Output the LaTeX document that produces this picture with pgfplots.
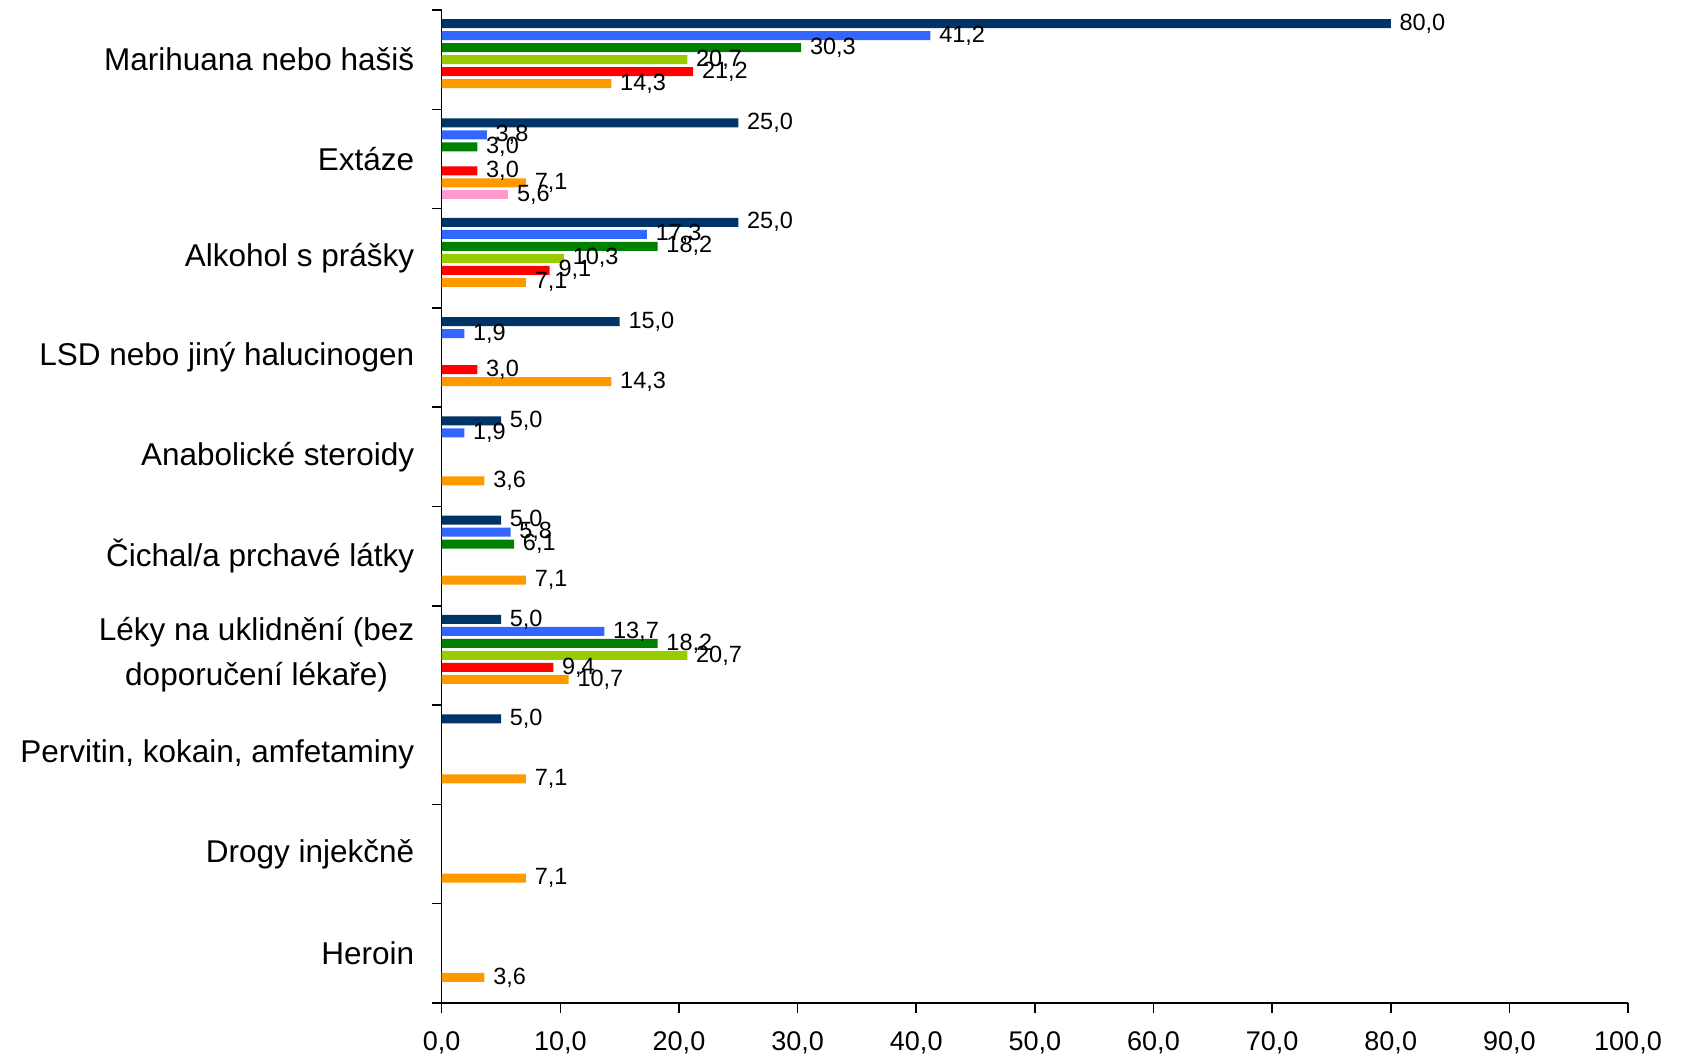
\documentclass[border=0pt]{standalone}
\usepackage{fontspec}
\setmainfont{Liberation Sans}
\usepackage{pgfplots}
\pgfplotsset{compat=1.18}

\definecolor{cNavy}{HTML}{003366}
\definecolor{cBlue}{HTML}{3366FF}
\definecolor{cGreen}{HTML}{008000}
\definecolor{cLime}{HTML}{99CC00}
\definecolor{cRed}{HTML}{FF0000}
\definecolor{cOrange}{HTML}{FF9900}
\definecolor{cPink}{HTML}{FF99CC}

\begin{document}
\begin{tikzpicture}
\begin{axis}[
    name=ax,
    xbar,
    scale only axis,
    width=474.5pt, height=397.2pt,
    xmin=0, xmax=100,
    ymin=-0.5, ymax=9.5,
    axis lines=left,
    axis line style={-, line width=0.6pt},
    tick style={black, line width=0.6pt},
    tick align=outside,
    major tick length=3.8pt,
    xtick={0,10,...,100},
    ytick={-0.5,0.5,...,9.5},
    yticklabels={},
    extra y ticks={0,1,...,9},
    extra y tick labels={Heroin\ ,Drogy injekčně,{Pervitin, kokain, amfetaminy\ },
      {\begin{tabular}{@{}c@{}}Léky na uklidnění (bez\\[3pt]doporučení lékaře)\end{tabular}},
      Čichal/a prchavé látky,Anabolické steroidy,LSD nebo jiný halucinogen,
      Alkohol s prášky\ ,Extáze,Marihuana nebo hašiš},
    extra y tick style={major tick length=0pt,
      yticklabel style={font=\fontsize{12.6}{15}\selectfont, anchor=east, xshift=-7.5pt}},
    xticklabel style={font=\fontsize{10.8}{13}\selectfont, yshift=-4pt},
    /pgf/number format/.cd, fixed, fixed zerofill, precision=1, use comma, assume math mode=true,
    /pgfplots/.cd,
    bar width=3.6pt,
    nodes near coords,
    every node near coord/.append style={font=\fontsize{9.4}{11}\selectfont, anchor=west, xshift=0pt,
      /pgf/number format/.cd, fixed, fixed zerofill, precision=1, use comma, assume math mode=true},
    clip=false,
]
\addplot[fill=cNavy, draw=none, bar shift=14.4pt] coordinates {
  (80,9) (25,8) (25,7) (15,6) (5,5) (5,4) (5,3) (5,2)};
\addplot[fill=cBlue, draw=none, bar shift=9.6pt] coordinates {
  (41.2,9) (3.8,8) (17.3,7) (1.9,6) (1.9,5) (5.8,4) (13.7,3)};
\addplot[fill=cGreen, draw=none, bar shift=4.8pt] coordinates {
  (30.3,9) (3.0,8) (18.2,7) (6.1,4) (18.2,3)};
\addplot[fill=cLime, draw=none, bar shift=0pt] coordinates {
  (20.7,9) (10.3,7) (20.7,3)};
\addplot[fill=cRed, draw=none, bar shift=-4.8pt] coordinates {
  (21.2,9) (3.0,8) (9.1,7) (3.0,6) (9.4,3)};
\addplot[fill=cOrange, draw=none, bar shift=-9.6pt] coordinates {
  (14.3,9) (7.1,8) (7.1,7) (14.3,6) (3.6,5) (7.1,4) (10.7,3) (7.1,2) (7.1,1) (3.6,0)};
\addplot[fill=cPink, draw=none, bar shift=-14.4pt] coordinates {
  (5.6,8)};
\end{axis}
\pgfresetboundingbox
\path[use as bounding box] ([shift={(-176.7pt,-23.1pt)}]ax.south west) rectangle ([shift={(21.2pt,4pt)}]ax.north east);
\end{tikzpicture}
\end{document}
